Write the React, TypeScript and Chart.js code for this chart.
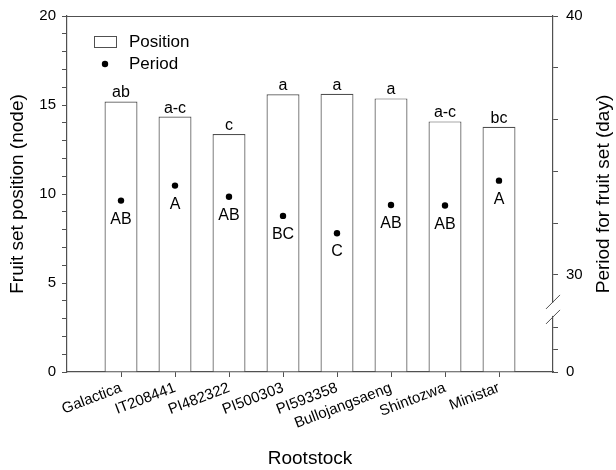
import React, { useEffect, useRef } from 'react';
import { Chart, registerables } from 'chart.js';

Chart.register(...registerables);

const FONT = '"Liberation Sans", Arial, Helvetica, sans-serif';

const categories = ['Galactica', 'IT208441', 'PI482322', 'PI500303', 'PI593358', 'Bullojangsaeng', 'Shintozwa', 'Ministar'];
const positionValues = [15.2, 14.35, 13.37, 15.6, 15.63, 15.37, 14.08, 13.78];
const periodValues = [32.87, 33.45, 33.02, 32.28, 31.61, 32.7, 32.68, 33.64];
const positionLetters = ['ab', 'a-c', 'c', 'a', 'a', 'a', 'a-c', 'bc'];
const periodLetters = ['AB', 'A', 'AB', 'BC', 'C', 'AB', 'AB', 'A'];

const positionMin = 0;
const positionMax = 20;
const positionStep = 1;
const positionLabelEvery = 5;

// broken right axis: bottom of the axis is labelled 0, upper part runs 30..40
const periodAxisMin = 26.25;
const periodAxisMax = 40;
const periodTickValues = [26.25, 27.12, 27.98, 30, 32, 34, 36, 38, 40];
const periodTickLabels = ['0', '', '', '30', '', '', '', '', '40'];

const legendLabels = ['Position', 'Period'];
const xTitle = 'Rootstock';
const yTitle = 'Fruit set position (node)';
const y2Title = 'Period for fruit set (day)';

const AXIS = '#505050';

export default function App() {
  const ref = useRef<HTMLCanvasElement>(null);

  useEffect(() => {
    document.body.style.margin = '0';
    const canvas = ref.current!;
    const padLabels = ['', ...categories, ''];

    const overlay = {
      id: 'overlay',
      afterDraw(chart: any) {
        const ctx = chart.ctx as CanvasRenderingContext2D;
        const a = chart.chartArea;
        const xs = chart.scales.x;
        const ys = chart.scales.y;
        const y2 = chart.scales.y2;
        ctx.save();
        // top border
        ctx.strokeStyle = AXIS;
        ctx.lineWidth = 1.2;
        ctx.beginPath();
        ctx.moveTo(a.left, a.top + 0.5);
        ctx.lineTo(a.right, a.top + 0.5);
        ctx.stroke();

        // axis break on right axis
        const y30 = y2.getPixelForValue(30);
        const b1 = y30 + 27;
        const b2 = y30 + 42;
        ctx.fillStyle = '#fff';
        ctx.fillRect(a.right - 3, b1 + 1, 6, b2 - b1 - 2);
        ctx.strokeStyle = AXIS;
        ctx.lineWidth = 1;
        ctx.beginPath();
        ctx.moveTo(a.right - 7, b1 + 7);
        ctx.lineTo(a.right + 7, b1 - 7);
        ctx.moveTo(a.right - 7, b2 + 7);
        ctx.lineTo(a.right + 7, b2 - 7);
        ctx.stroke();

        // significance letters
        ctx.fillStyle = '#000';
        ctx.font = `16px ${FONT}`;
        ctx.textAlign = 'center';
        ctx.textBaseline = 'alphabetic';
        categories.forEach((_, i) => {
          const x = xs.getPixelForValue(i + 1);
          const yb = ys.getPixelForValue(positionValues[i]);
          ctx.fillText(positionLetters[i], x, yb - 4);
          const yp = y2.getPixelForValue(periodValues[i]);
          ctx.fillText(periodLetters[i], x, yp + 23);
        });

        // legend
        const lx = a.left + 27;
        const ly = a.top + 20;
        ctx.strokeStyle = AXIS;
        ctx.lineWidth = 1;
        ctx.strokeRect(lx + 0.5, ly + 0.5, 22, 11);
        ctx.beginPath();
        ctx.fillStyle = '#000';
        ctx.arc(lx + 11, ly + 28, 3.2, 0, Math.PI * 2);
        ctx.fill();
        ctx.font = `17px ${FONT}`;
        ctx.textAlign = 'left';
        ctx.textBaseline = 'middle';
        ctx.fillText(legendLabels[0], lx + 35, ly + 6);
        ctx.fillText(legendLabels[1], lx + 35, ly + 28);

        // axis titles
        ctx.font = `19px ${FONT}`;
        ctx.textAlign = 'center';
        ctx.textBaseline = 'middle';
        const cy = (a.top + a.bottom) / 2;
        ctx.save();
        ctx.translate(18, cy);
        ctx.rotate(-Math.PI / 2);
        ctx.fillText(yTitle, 0, 0);
        ctx.restore();
        ctx.save();
        ctx.translate(604, cy);
        ctx.rotate(-Math.PI / 2);
        ctx.fillText(y2Title, 0, 0);
        ctx.restore();
        ctx.fillText(xTitle, (a.left + a.right) / 2, 459);
        ctx.restore();
      },
    };

    const chart = new Chart(canvas, {
      type: 'bar',
      data: {
        labels: padLabels,
        datasets: [
          {
            type: 'line',
            label: legendLabels[1],
            data: [null, ...periodValues, null],
            showLine: false,
            pointRadius: 3.2,
            pointBackgroundColor: '#000',
            pointBorderColor: '#000',
            pointBorderWidth: 0,
            yAxisID: 'y2',
            order: 1,
          } as any,
          {
            type: 'bar',
            label: legendLabels[0],
            data: [null, ...positionValues, null],
            backgroundColor: '#fff',
            borderColor: AXIS,
            borderWidth: 1.2,
            barPercentage: 0.61,
            categoryPercentage: 1,
            yAxisID: 'y',
            order: 2,
          } as any,
        ],
      },
      options: {
        responsive: false,
        animation: false,
        layout: { padding: { top: 16, left: 0, right: 0, bottom: 0 } },
        plugins: { legend: { display: false }, tooltip: { enabled: false } },
        scales: {
          x: {
            type: 'category',
            offset: false,
            grid: {
              offset: false,
              drawOnChartArea: false,
              drawTicks: true,
              tickLength: 5,
              tickColor: (c: any) => (c.index === 0 || c.index === padLabels.length - 1 ? 'rgba(0,0,0,0)' : AXIS),
            },
            border: { color: AXIS, width: 1.2 },
            ticks: {
              autoSkip: false,
              maxRotation: 21,
              minRotation: 21,
              padding: 2,
              color: '#000',
              font: { family: FONT, size: 15 },
            },
            afterFit: (s: any) => {
              s.height = 98;
              s.paddingLeft = 0;
              s.paddingRight = 0;
            },
          },
          y: {
            position: 'left',
            min: positionMin,
            max: positionMax,
            grid: { drawOnChartArea: false, tickLength: 5, tickColor: AXIS },
            border: { color: AXIS, width: 1.2 },
            ticks: {
              stepSize: positionStep,
              autoSkip: false,
              padding: 6,
              color: '#000',
              font: { family: FONT, size: 15 },
              callback: (v: any) => (Number(v) % positionLabelEvery === 0 ? String(v) : ''),
            },
            afterFit: (s: any) => {
              s.width = 67;
              s.paddingTop = 0;
              s.paddingBottom = 0;
            },
          },
          y2: {
            position: 'right',
            min: periodAxisMin,
            max: periodAxisMax,
            grid: { drawOnChartArea: false, tickLength: 5, tickColor: AXIS },
            border: { color: AXIS, width: 1.2 },
            afterBuildTicks: (s: any) => {
              s.ticks = periodTickValues.map((v) => ({ value: v }));
            },
            ticks: {
              autoSkip: false,
              padding: 8,
              color: '#000',
              font: { family: FONT, size: 15 },
              callback: (_v: any, i: number) => periodTickLabels[i] ?? '',
            },
            afterFit: (s: any) => {
              s.width = 63;
              s.paddingTop = 0;
              s.paddingBottom = 0;
            },
          },
        },
      } as any,
      plugins: [overlay],
    });
    return () => chart.destroy();
  }, []);

  return (
    <div style={{ width: 616, height: 470 }}>
      <canvas ref={ref} width={616} height={470} />
    </div>
  );
}
